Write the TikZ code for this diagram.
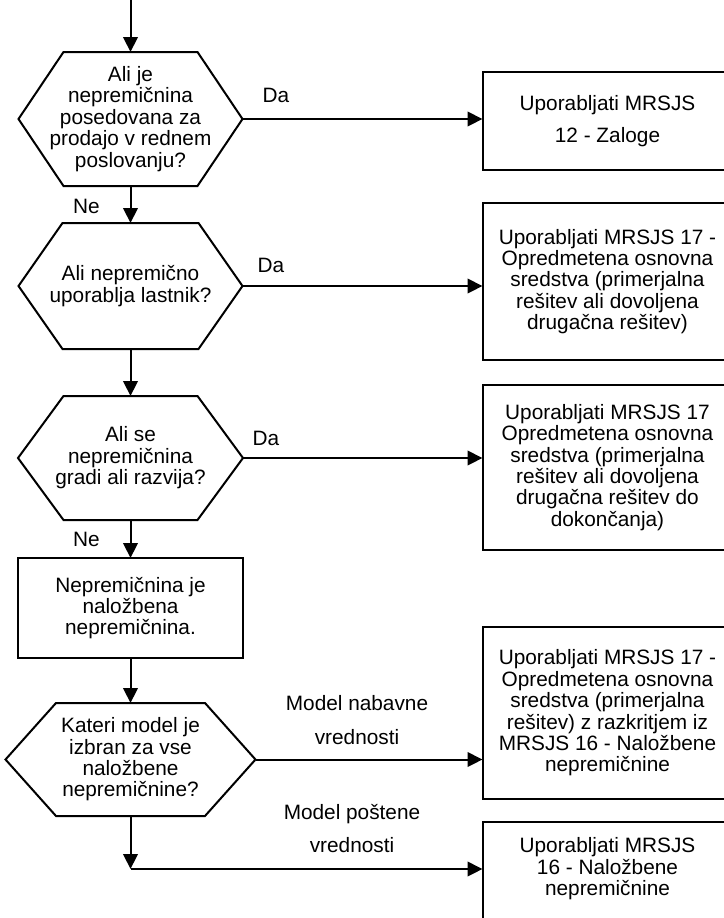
\documentclass[tikz,border=0pt]{standalone}
\usepackage{fontspec}
\setmainfont{Liberation Sans}
\usetikzlibrary{arrows.meta,calc}
\newcommand\drawhexagon[2]{%
  \draw[shapeline] (#1.west) -- ($(#1.north west)+(#2,0)$) -- ($(#1.north east)+(-#2,0)$)
    -- (#1.east) -- ($(#1.south east)+(-#2,0)$) -- ($(#1.south west)+(#2,0)$) -- cycle;}
\begin{document}
\begin{tikzpicture}[x=0.75pt,y=-0.75pt,
  every node/.style={font=\fontsize{15.6pt}{16.05pt}\selectfont, inner sep=0pt, outer sep=0pt},
  flow/.style={line width=1.5pt, -{Triangle[length=11.25pt,width=10.9pt]}},
  shapeline/.style={line width=1.5pt, line join=miter},
  hexnode/.style={align=center},
  rbox/.style={draw, line width=1.5pt, align=center, minimum width=187.5pt},
  lbl/.style={align=center}]
\useasboundingbox (0,0) rectangle (724,918);
\clip (0,0) rectangle (724,918);

% left column
\coordinate (start) at (130.5,-5);
\node[hexnode, minimum width=168pt, minimum height=100.5pt] (h1) at (130.5,119)
  {Ali je\\nepremičnina\\posedovana za\\prodajo v rednem\\poslovanju?};
\node[hexnode, minimum width=168pt, minimum height=94.5pt] (h2) at (130.5,286)
  {Ali nepremično\\uporablja lastnik?};
\node[hexnode, minimum width=168.75pt, minimum height=93pt] (h3) at (130.5,458)
  {Ali se\\nepremičnina\\gradi ali razvija?};
\node[rbox, minimum width=168.75pt, minimum height=75pt] (r) at (130.5,608)
  {Nepremičnina je\\naložbena\\nepremičnina.};
\node[hexnode, minimum width=187.5pt, minimum height=84.75pt] (h4) at (130.5,759.5)
  {Kateri model je\\izbran za vse\\naložbene\\nepremičnine?};
\drawhexagon{h1}{45}
\drawhexagon{h2}{44}
\drawhexagon{h3}{45.5}
\drawhexagon{h4}{50.5}

% right column
\node[rbox, minimum height=73.5pt] (b1) at (607.5,121)
  {Uporabljati MRSJS\\[7.6pt]12 - Zaloge};
\node[rbox, minimum height=117.75pt] (b2) at (607.5,281.5)
  {Uporabljati MRSJS 17 -\\Opredmetena osnovna\\sredstva (primerjalna\\rešitev ali dovoljena\\drugačna rešitev)};
\node[rbox, minimum height=123.75pt] (b3) at (607.5,467.5)
  {Uporabljati MRSJS 17\\Opredmetena osnovna\\sredstva (primerjalna\\rešitev ali dovoljena\\drugačna rešitev do\\dokončanja)};
\node[rbox, minimum height=129pt] (b4) at (607.5,713)
  {Uporabljati MRSJS 17 -\\Opredmetena osnovna\\sredstva (primerjalna\\rešitev) z razkritjem iz\\MRSJS 16 - Naložbene\\nepremičnine};
\node[rbox, draw=none, minimum height=70.5pt] (b5) at (607.5,869)
  {Uporabljati MRSJS\\16 - Naložbene\\nepremičnine};
\draw[shapeline] ($(b5.south west)+(0,20)$) |- ($(b5.north east)+(20,0)$);

% labels
\node[lbl] (da1) at (276,95.5) {Da};
\node[lbl] (da2) at (271,265) {Da};
\node[lbl] (da3) at (266,438) {Da};
\node[lbl] (ne1) at (86.5,206.5) {Ne};
\node[lbl] (ne2) at (86.5,539) {Ne};
\node[lbl] (m1) at (357,720) {Model nabavne\\[9.4pt]vrednosti};
\node[lbl] (m2) at (352,828.5) {Model poštene\\[8.7pt]vrednosti};

% connectors
\draw[flow] (start) -- (h1.north);
\draw[flow] (h1.south) -- (h2.north);
\draw[flow] (h2.south) -- (h3.north);
\draw[flow] (h3.south) -- (r.north);
\draw[flow] (r.south) -- (h4.north);
\draw[flow] (h1.east) -- (h1.east -| b1.west);
\draw[flow] (h2.east) -- (h2.east -| b2.west);
\draw[flow] (h3.east) -- (h3.east -| b3.west);
\draw[flow] (h4.east) -- (h4.east -| b4.west);
\coordinate (corner) at (h4.south |- b5.west);
\draw[flow] (h4.south) -- (corner);
\draw[flow] (corner) -- (b5.west);
\end{tikzpicture}
\end{document}
